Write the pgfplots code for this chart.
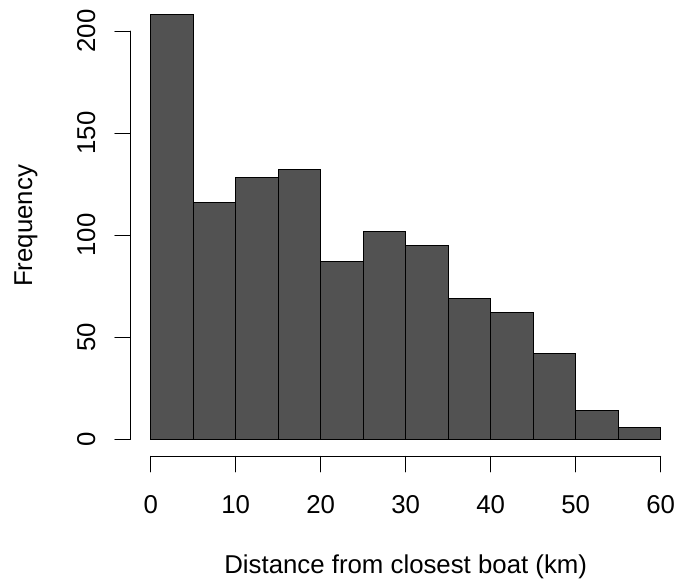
\documentclass[border=0pt]{standalone}
\usepackage{fontspec}
\setmainfont{Liberation Sans}
\usepackage{pgfplots}
\pgfplotsset{compat=1.18}
\definecolor{barfill}{HTML}{525252}
\newcommand{\rfont}{\fontsize{25.8}{30}\selectfont}
\begin{document}
\begin{tikzpicture}
\begin{axis}[
  scale only axis, width=550.8pt, height=460.8pt,
  xmin=-2.4, xmax=62.4, ymin=-8.36, ymax=217.36,
  axis line style={draw=none},
  xtick=\empty, ytick=\empty,
  clip=false,
]
\addplot[ybar interval, fill=barfill, draw=black, line width=1pt]
  coordinates {(0,208) (5,116) (10,128) (15,132) (20,87) (25,102) (30,95) (35,69) (40,62) (45,42) (50,14) (55,6) (60,6)};
% x axis
\draw[black, line width=1pt, line cap=round] (axis cs:0,-8.36) -- (axis cs:60,-8.36);
\pgfplotsinvokeforeach{0,10,20,30,40,50,60}{
  \draw[black, line width=1pt, line cap=round] (axis cs:#1,-8.36) -- (axis cs:#1,-15.95);
  \node[anchor=base, inner sep=0pt, font=\rfont] at (axis cs:#1,-36.1) {#1};
}
% y axis
\draw[black, line width=1pt, line cap=round] (axis cs:-2.4,0) -- (axis cs:-2.4,200);
\pgfplotsinvokeforeach{0,50,100,150,200}{
  \draw[black, line width=1pt, line cap=round] (axis cs:-2.4,#1) -- (axis cs:-4.22,#1);
  \node[anchor=base, rotate=90, inner sep=0pt, font=\rfont] at (axis cs:-6.55,#1) {#1};
}
\node[anchor=base, inner sep=0pt, font=\rfont] at (axis cs:30,-65.64) {Distance from closest boat (km)};
\node[anchor=base, rotate=90, inner sep=0pt, font=\rfont] at (axis cs:-13.96,104.5) {Frequency};
\coordinate (bbA) at (axis cs:-17.73,-69.41);
\coordinate (bbB) at (axis cs:62.15,215.19);
\end{axis}
\pgfresetboundingbox
\useasboundingbox (bbA) rectangle (bbB);
\end{tikzpicture}
\end{document}
